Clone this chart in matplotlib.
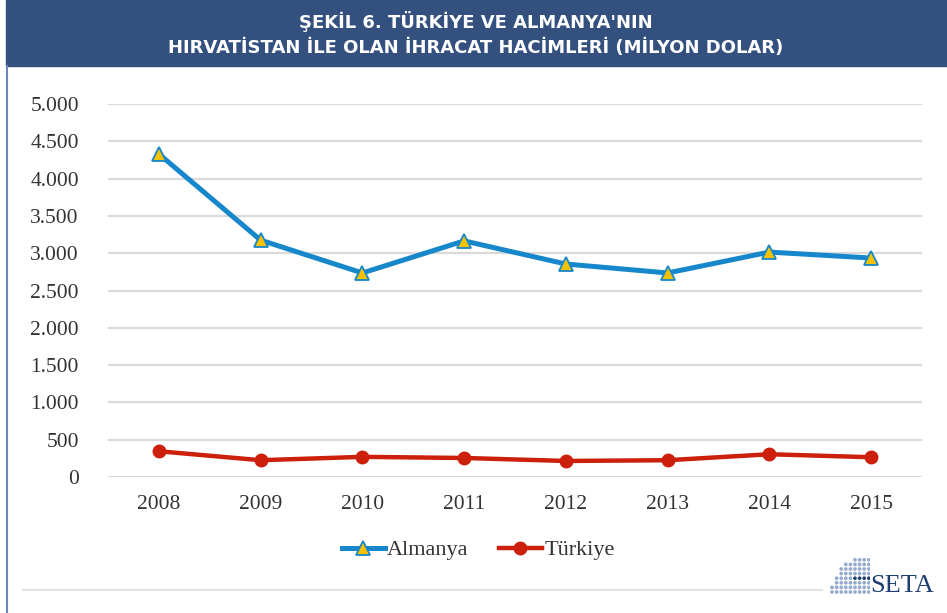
import matplotlib.pyplot as plt
import numpy as np
from matplotlib.patches import Rectangle
from matplotlib.lines import Line2D

# Data (million USD)
years = ["2008", "2009", "2010", "2011", "2012", "2013", "2014", "2015"]
almanya = [4330, 3175, 2735, 3165, 2855, 2735, 3015, 2935]
turkiye = [345, 225, 270, 255, 215, 225, 305, 265]
y_ticks = [0, 500, 1000, 1500, 2000, 2500, 3000, 3500, 4000, 4500, 5000]
y_labels = ["0", "500", "1.000", "1.500", "2.000", "2.500", "3.000",
            "3.500", "4.000", "4.500", "5.000"]

W, H = 947, 613
fig = plt.figure(figsize=(W / 100, H / 100), dpi=100)
fig.patch.set_facecolor("white")

# header band
fig.patches.append(Rectangle((6 / W, 1 - 66 / H), 1 - 6 / W, 66 / H,
                             transform=fig.transFigure, color="#34507F", zorder=0))
title_font = ["DejaVu Sans"]
fig.text(476 / W, 1 - 22 / H, "ŞEKİL 6. TÜRKİYE VE ALMANYA'NIN",
         color="white", fontsize=13, fontweight="bold", ha="center", va="center",
         family=title_font)
fig.text(476 / W, 1 - 48 / H, "HIRVATİSTAN İLE OLAN İHRACAT HACİMLERİ (MİLYON DOLAR)",
         color="white", fontsize=13, fontweight="bold", ha="center", va="center",
         family=title_font)

# frame lines
fig.lines.append(Line2D([6.5 / W, 6.5 / W], [0, 1 - 66 / H], transform=fig.transFigure,
                        color="#6F86B8", lw=1.5))
fig.lines.append(Line2D([23 / W, 822 / W], [1 - 590 / H, 1 - 590 / H],
                        transform=fig.transFigure, color="#E2E2E2", lw=1.5))

ax = fig.add_axes([108 / W, 1 - 477 / H, (922 - 108) / W, (477 - 104) / H])
x = np.arange(len(years))
ax.plot(x, almanya, color="#1787CC", lw=3.6, marker="^", ms=10,
        markerfacecolor="#F6C100", markeredgecolor="#1787CC", markeredgewidth=1.3,
        label="Almanya", zorder=3, clip_on=False)
ax.plot(x, turkiye, color="#CC1F0C", lw=3.2, marker="o", ms=9,
        markerfacecolor="#CC1F0C", markeredgecolor="#CC1F0C",
        label="Türkiye", zorder=3, clip_on=False)

ax.set_xlim(-0.5, len(years) - 0.5)
ax.set_ylim(0, 5000)
ax.set_xticks(x)
ax.set_xticklabels(years)
ax.set_yticks(y_ticks)
ax.set_yticklabels(y_labels)
ax.grid(axis="y", color="#DADADA", lw=1.6)
ax.set_axisbelow(True)
for s in ax.spines.values():
    s.set_visible(False)
ax.tick_params(length=0, labelsize=15.5, labelcolor="#333333")
ax.tick_params(axis="y", pad=21)
ax.tick_params(axis="x", pad=13)
for lab in ax.get_xticklabels() + ax.get_yticklabels():
    lab.set_family("Liberation Serif")

leg = ax.legend(loc="center", bbox_to_anchor=(478 / W, 1 - 550 / H),
                bbox_transform=fig.transFigure, ncol=2, frameon=False,
                prop={"family": "Liberation Serif", "size": 16},
                handlelength=1.95, columnspacing=1.35, handletextpad=0.1)
for t in leg.get_texts():
    t.set_color("#333333")

# SETA logo: dotted quarter dome
lax = fig.add_axes([830 / W, 1 - 594 / H, 40 / W, 40 / H])
lax.set_xlim(0, 1)
lax.set_ylim(0, 1)
lax.axis("off")
pts_x, pts_y, cols = [], [], []
for i in range(9):
    for j in range(9):
        px = 0.05 + j * 0.115
        py = 0.05 + i * 0.115
        if (px - 1.0) ** 2 + py ** 2 <= 0.97 ** 2:
            pts_x.append(px)
            pts_y.append(py)
            cols.append("#1F3F73" if (i == 3 and j >= 5) else "#93AACD")
lax.scatter(pts_x, pts_y, s=7, c=cols, linewidths=0)
fig.text(870 / W, 1 - 592 / H, "SETA", color="#1F3F73", fontsize=19,
         family="Liberation Serif", ha="left", va="baseline")

fig.savefig("out.png", dpi=100)
